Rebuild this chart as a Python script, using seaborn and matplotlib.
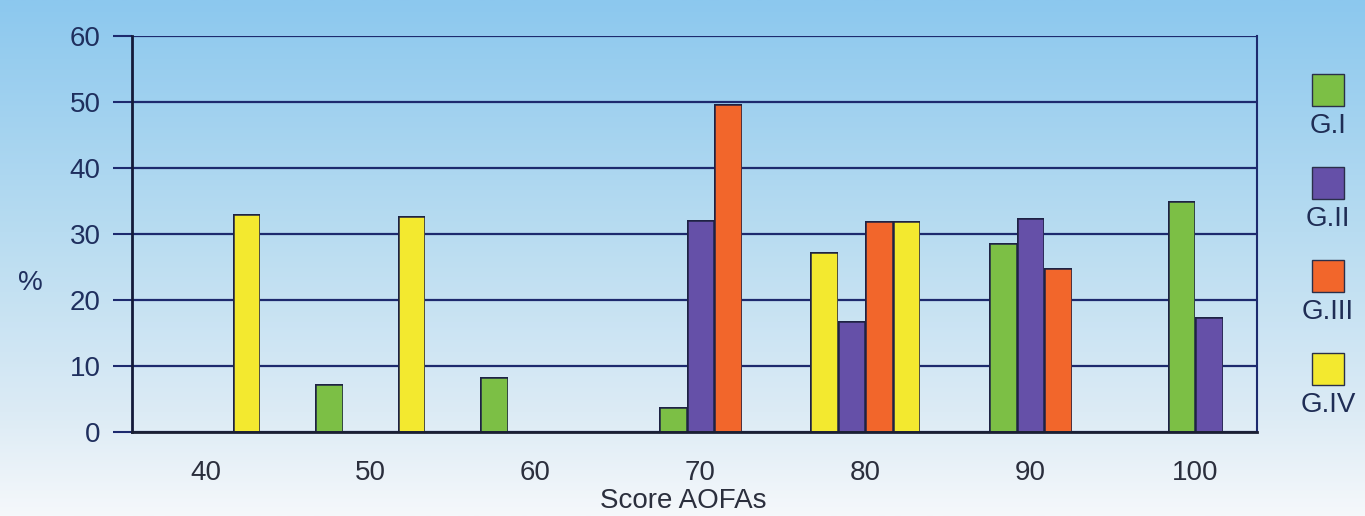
import numpy as np
import pandas as pd
import matplotlib
matplotlib.use("Agg")
import matplotlib.pyplot as plt
from matplotlib.colors import LinearSegmentedColormap
from matplotlib.patches import Rectangle
import seaborn as sns
import seaborn.objects as so

# AOFAS score bands and patient groups
scores = ["40", "50", "60", "70", "80", "90", "100"]
groups = ["G.I", "G.II", "G.III", "G.IV"]

# Percentage of patients per score band (None = group not shown in that band)
g1_pct = [0, 7.3, 8.3, 3.8, 27.3, 28.6, 35.0]
g2_pct = [0, 0, 0, 32.1, 16.8, 32.4, 17.4]
g3_pct = [0, 0, 0, 49.7, 32.0, 24.8, None]
g4_pct = [33.0, 32.7, 0, None, 32.0, None, None]

group_colors = {
    "G.I": "#7cbf45",
    "G.II": "#6550a8",
    "G.III": "#f2662b",
    "G.IV": "#f3e92f",
}

sns.set_theme(style="white")
plt.rcParams["font.family"] = ["Liberation Sans", "DejaVu Sans"]

rows = []
for name, vals in zip(groups, [g1_pct, g2_pct, g3_pct, g4_pct]):
    for s, v in zip(scores, vals):
        if v is not None:
            rows.append((s, name, v))
df = pd.DataFrame(rows, columns=["score", "group", "value"])
# the G.I bar of the 80 band is printed in the G.IV yellow
df["shade"] = df["group"]
df.loc[(df["score"] == "80") & (df["group"] == "G.I"), "shade"] = "G.IV"

W, H = 1365, 516
fig = plt.figure(figsize=(W / 100, H / 100), dpi=100)

# sky-blue to white backdrop
bg = fig.add_axes([0, 0, 1, 1], zorder=-10)
cmap = LinearSegmentedColormap.from_list(
    "sky",
    [(0.0, "#8cc8ee"), (0.45, "#b8dcf1"), (0.8, "#dcebf5"), (1.0, "#f5f8fb")],
)
grad = np.linspace(0, 1, 256).reshape(-1, 1)
bg.imshow(grad, aspect="auto", cmap=cmap, extent=[0, 1, 0, 1], origin="upper")
bg.axis("off")

ax = fig.add_axes([132 / W, 1 - 432 / H, 1125 / W, 396 / H])
ax.set_facecolor("none")

(
    so.Plot(df, x="score", y="value", color="shade", group="group")
    .add(
        so.Bar(width=0.667, alpha=1, edgecolor="#1e2244", edgewidth=0.9),
        so.Dodge(empty="drop", by=["group"]),
        legend=False,
    )
    .scale(x=so.Nominal(order=scores), color=so.Nominal(group_colors, order=groups))
    .on(ax)
    .plot()
)

navy = "#1d2a6e"
ax.set_facecolor("none")
ax.set_xlim(-0.445, 6.373)
ax.set_ylim(0, 60)
ax.set_yticks(range(0, 61, 10))
ax.set_yticklabels([str(v) for v in range(0, 61, 10)])
ax.set_xticks(range(len(scores)))
ax.set_xticklabels(scores)
ax.set_xticks([i + 0.5 for i in range(len(scores) - 1)], minor=True)

ax.grid(False)
ax.yaxis.grid(True, color=navy, linewidth=1.6)
ax.set_axisbelow(True)

ax.tick_params(axis="y", which="major", direction="out", length=13.5, width=1.5,
               color=navy, pad=9, labelsize=20, labelcolor="#1f2f5e")
ax.tick_params(axis="x", which="major", length=0, pad=20, labelsize=20,
               labelcolor="#2b2f3d")
ax.tick_params(axis="x", which="minor", direction="out", length=10, width=2,
               color="#1a1f33")
ax.tick_params(left=True, bottom=True)

for side in ["top"]:
    ax.spines[side].set_visible(False)
ax.spines["right"].set_color(navy)
ax.spines["right"].set_linewidth(1.5)
ax.spines["left"].set_color("#141a3a")
ax.spines["left"].set_linewidth(2)
ax.spines["bottom"].set_color("#1a1f33")
ax.spines["bottom"].set_linewidth(2)

ax.set_xlabel("Score AOFAs", fontsize=20, color="#2b2f3d")
ax.xaxis.set_label_coords((683 - 132) / 1125, -(488 - 432) / 396)
ax.xaxis.label.set_va("top")
ax.set_ylabel("%", fontsize=20, color="#1f2f5e", rotation=0, va="center", ha="center")
ax.yaxis.set_label_coords((30 - 132) / 1125, (432 - 283) / 396)

# legend: swatch above each group name
for i, name in enumerate(groups):
    top = 74 + 93 * i
    fig.patches.append(Rectangle(
        (1312 / W, 1 - (top + 32) / H), 32 / W, 32 / H,
        transform=fig.transFigure, facecolor=group_colors[name],
        edgecolor="#2a2f4a", linewidth=1.0))
    fig.text(1328 / W, 1 - (top + 52) / H, name, ha="center", va="center",
             fontsize=20, color="#1f2d55")

fig.savefig("out.png", dpi=100)
